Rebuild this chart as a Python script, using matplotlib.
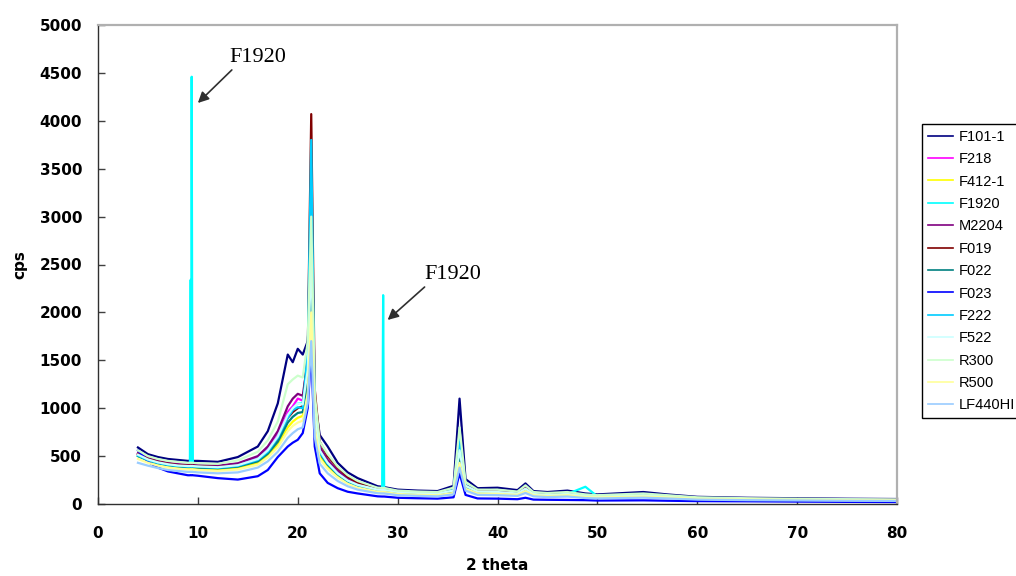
import matplotlib
matplotlib.use("Agg")
import matplotlib.pyplot as plt

# 2 theta grid shared by all scans (denser around the peaks)
two_theta = [4.0, 5, 6, 7, 8, 9, 9.2, 9.28, 9.33, 9.38, 9.43, 9.5,
             10, 12, 14, 16, 17, 18, 19,
             19.5, 20, 20.5, 21.0, 21.35, 21.7, 22.2,
             23, 24, 25, 26, 28,
             28.45, 28.55, 28.65,
             30, 32, 34, 35.6, 36.2, 36.8, 38, 40,
             42, 42.8, 43.6, 45, 47, 48.8, 50,
             54.6, 57, 60, 65, 70, 75, 80]

# counts per second
f101_1 = [590, 520, 490, 470, 460, 450, 452, 455, 450, 455, 452, 450,
          450, 440, 490, 600, 760, 1050, 1560,
          1480, 1620, 1560, 1700, 2300, 1100, 720,
          600, 430, 330, 270, 185,
          180, 178, 176,
          150, 140, 135, 190, 1100, 260, 165, 170,
          145, 215, 135, 125, 140, 110, 100,
          125, 100, 75, 65, 60, 55, 52]
f218 = [520, 470, 440, 420, 410, 400, 400, 402, 400, 400, 402, 400,
        400, 390, 410, 480, 570, 720, 960,
        1020, 1100, 1080, 1400, 2700, 950, 560,
        430, 330, 250, 205, 150,
        145, 145, 145,
        125, 115, 110, 140, 520, 190, 130, 125,
        110, 160, 105, 95, 105, 85, 80,
        90, 80, 60, 52, 48, 45, 42]
f412_1 = [500, 450, 420, 400, 385, 375, 375, 376, 375, 375, 376, 375,
          370, 360, 380, 430, 510, 620, 800,
          860, 900, 920, 1200, 2100, 850, 500,
          390, 290, 220, 180, 135,
          130, 130, 130,
          110, 100, 95, 120, 450, 165, 115, 110,
          100, 140, 95, 85, 95, 75, 70,
          80, 70, 55, 48, 44, 41, 38]
f1920 = [510, 460, 430, 410, 400, 395, 395, 2340, 420, 4460, 1890, 395,
         395, 385, 405, 470, 560, 700, 920,
         1000, 1050, 1050, 1500, 3200, 1000, 560,
         430, 320, 245, 200, 150,
         150, 2180, 150,
         125, 115, 110, 150, 700, 200, 130, 125,
         110, 165, 105, 95, 105, 180, 80,
         95, 80, 60, 52, 48, 45, 42]
m2204 = [530, 480, 450, 430, 415, 410, 410, 412, 410, 410, 412, 410,
         405, 400, 425, 500, 600, 760, 1020,
         1100, 1150, 1130, 1500, 3500, 1050, 600,
         460, 350, 265, 215, 155,
         150, 150, 150,
         130, 120, 115, 145, 540, 195, 135, 130,
         115, 170, 110, 100, 110, 88, 82,
         95, 82, 62, 54, 50, 46, 43]
f019 = [520, 470, 440, 420, 405, 400, 400, 402, 400, 400, 402, 400,
        395, 385, 400, 460, 540, 680, 900,
        960, 1000, 1020, 1600, 4070, 1200, 650,
        500, 380, 285, 225, 160,
        155, 155, 155,
        130, 120, 112, 140, 500, 185, 128, 122,
        110, 160, 105, 95, 105, 85, 80,
        90, 80, 60, 52, 48, 45, 42]
f022 = [500, 455, 425, 405, 392, 385, 385, 386, 385, 385, 386, 385,
        380, 372, 390, 445, 525, 650, 850,
        910, 950, 960, 1300, 2500, 900, 530,
        410, 310, 235, 190, 140,
        138, 138, 138,
        118, 108, 102, 130, 480, 175, 120, 115,
        104, 150, 100, 90, 100, 80, 75,
        85, 75, 57, 50, 46, 43, 40]
f023 = [560, 440, 380, 340, 320, 300, 300, 302, 300, 300, 302, 300,
        295, 270, 255, 290, 355, 490, 600,
        640, 670, 740, 1000, 1600, 600, 320,
        220, 165, 128, 110, 80,
        78, 78, 78,
        65, 60, 56, 70, 320, 95, 58, 56,
        50, 65, 46, 44, 42, 40, 36,
        38, 34, 30, 28, 25, 22, 20]
f222 = [505, 458, 428, 408, 396, 390, 390, 392, 390, 390, 392, 390,
        388, 378, 398, 460, 545, 690, 900,
        980, 1010, 1000, 1600, 3800, 1000, 540,
        420, 315, 240, 195, 145,
        142, 142, 142,
        120, 110, 105, 145, 650, 190, 125, 120,
        106, 155, 100, 92, 102, 82, 77,
        88, 77, 58, 50, 46, 43, 40]
f522 = [515, 465, 435, 415, 402, 396, 396, 398, 396, 396, 398, 396,
        392, 384, 405, 470, 560, 705, 930,
        1000, 1050, 1040, 1400, 2600, 950, 560,
        430, 320, 245, 200, 150,
        147, 147, 147,
        126, 116, 110, 140, 560, 190, 130, 125,
        110, 160, 105, 95, 105, 85, 80,
        92, 80, 60, 52, 48, 45, 42]
r300 = [560, 500, 470, 450, 440, 430, 430, 432, 430, 430, 432, 430,
        425, 420, 455, 545, 665, 860, 1250,
        1300, 1340, 1320, 1700, 3000, 1150, 650,
        520, 390, 300, 240, 170,
        168, 168, 168,
        140, 130, 125, 170, 800, 230, 150, 150,
        130, 195, 125, 115, 125, 100, 92,
        110, 92, 70, 60, 55, 50, 47]
r500 = [470, 430, 400, 380, 368, 360, 360, 362, 360, 360, 362, 360,
        355, 345, 360, 410, 485, 590, 760,
        815, 850, 870, 1150, 2000, 800, 470,
        365, 275, 210, 170, 128,
        126, 126, 126,
        105, 96, 92, 115, 430, 160, 110, 106,
        96, 135, 92, 83, 92, 72, 68,
        78, 68, 53, 46, 43, 40, 37]
lf440hi = [430, 400, 375, 355, 345, 335, 335, 337, 335, 335, 337, 335,
           330, 320, 330, 380, 445, 545, 690,
           740, 780, 800, 1050, 1700, 700, 420,
           320, 240, 185, 150, 112,
           110, 110, 110,
           92, 85, 80, 100, 380, 140, 95, 92,
           84, 115, 80, 72, 78, 62, 58,
           66, 58, 46, 40, 37, 34, 32]

labels = ["F101-1", "F218", "F412-1", "F1920", "M2204", "F019", "F022",
          "F023", "F222", "F522", "R300", "R500", "LF440HI"]
colors = ["#000080", "#FF00FF", "#FFFF00", "#00FFFF", "#800080", "#800000",
          "#008080", "#0000FF", "#00CCFF", "#CCFFFF", "#CCFFCC", "#FFFF99",
          "#99CCFF"]
series = [f101_1, f218, f412_1, f1920, m2204, f019, f022,
          f023, f222, f522, r300, r500, lf440hi]

W, H = 1016, 576
fig = plt.figure(figsize=(W / 100, H / 100), dpi=100)
ax = fig.add_axes([98 / W, 1 - 504 / H, 799 / W, 479 / H])

for ys, lab, col in zip(series, labels, colors):
    ax.plot(two_theta, ys, color=col, lw=1.6, label=lab)

ax.set_xlim(0, 80)
ax.set_ylim(0, 5000)
ax.set_xticks(range(0, 81, 10))
ax.set_yticks(range(0, 5001, 500))

for side in ("left", "bottom"):
    ax.spines[side].set_color("#303030")
    ax.spines[side].set_linewidth(1.0)
for side in ("top", "right"):
    ax.spines[side].set_color("#b0b0b0")
    ax.spines[side].set_linewidth(1.6)

ax.tick_params(direction="in", length=5, width=1, color="#404040")
ax.tick_params(axis="y", pad=11.5)
ax.tick_params(axis="x", pad=16)
for t in ax.get_xticklabels() + ax.get_yticklabels():
    t.set_fontfamily("DejaVu Sans")
    t.set_fontweight("bold")
    t.set_fontsize(11)

fig.text(20 / W, 1 - 265 / H, "cps", rotation=90, ha="center", va="center",
         fontsize=11, fontweight="bold", family="DejaVu Sans")
fig.text(497 / W, 1 - 566 / H, "2 theta", ha="center", va="center",
         fontsize=11, fontweight="bold", family="DejaVu Sans")

# arrows pointing at the F1920 reflections
arrow = dict(arrowstyle="-|>", color="#303030", lw=1.2, mutation_scale=16,
             shrinkA=0, shrinkB=0)
ax.annotate("", xy=(10.0, 4186), xytext=(13.4, 4531), arrowprops=arrow)
ax.text(16.0, 4661, "F1920", ha="center", va="center", fontsize=16,
        family="Liberation Serif")
ax.annotate("", xy=(29.0, 1921), xytext=(32.7, 2265), arrowprops=arrow)
ax.text(35.5, 2396, "F1920", ha="center", va="center", fontsize=16,
        family="Liberation Serif")

leg = ax.legend(loc="upper left", bbox_to_anchor=(922 / W, 1 - 124 / H),
                bbox_transform=fig.transFigure, borderaxespad=0,
                prop={"family": "Liberation Sans", "size": 10.5},
                handlelength=1.75, handletextpad=0.4, labelspacing=0.575,
                borderpad=0.4, fancybox=False, framealpha=1)
leg.get_frame().set_edgecolor("black")
leg.get_frame().set_linewidth(1.0)
for line in leg.get_lines():
    line.set_linewidth(1.2)

fig.savefig("out.png", dpi=100)
